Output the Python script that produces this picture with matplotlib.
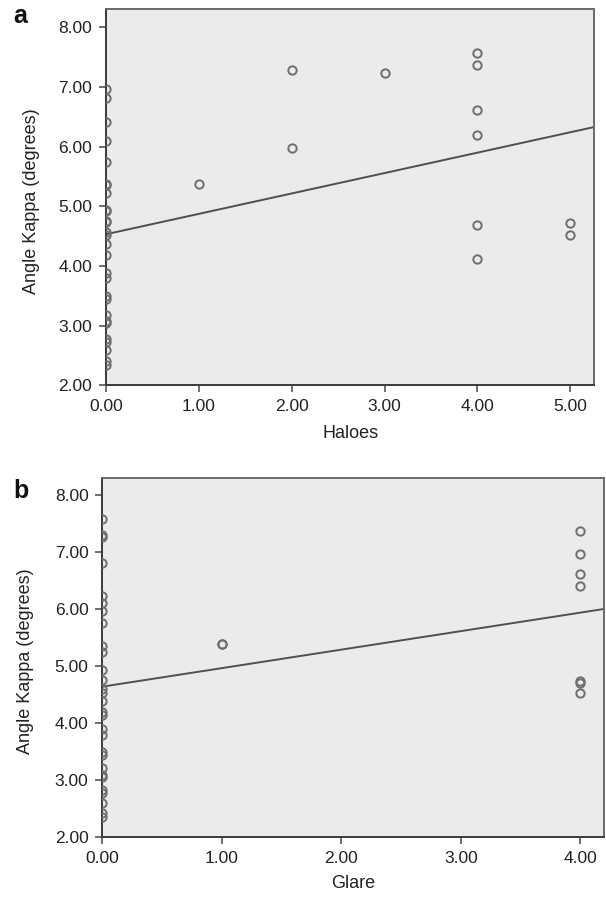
import numpy as np
import matplotlib
matplotlib.use('Agg')
import matplotlib.pyplot as plt

plt.rcParams['font.family'] = ['Liberation Sans', 'DejaVu Sans']

# PANEL a: HALOES vs ANGLE KAPPA
haloes_zero = [6.97, 6.81, 6.41, 6.10, 5.74, 5.38, 5.36, 5.22, 4.94, 4.92, 4.76, 4.74,
               4.56, 4.52, 4.37, 4.19, 3.88, 3.79, 3.49, 3.44, 3.18, 3.07, 3.04,
               2.78, 2.73, 2.59, 2.40, 2.34]
haloes_x = [1, 2, 2, 3, 4, 4, 4, 4, 4, 4, 5, 5]
haloes_y = [5.38, 7.29, 5.97, 7.24, 7.57, 7.37, 6.61, 6.20, 4.68, 4.12, 4.72, 4.52]
haloes_fit = (4.53, 0.342)   # intercept, slope

# PANEL b: GLARE vs ANGLE KAPPA
glare_zero = [7.57, 7.30, 7.26, 6.81, 6.22, 6.10, 5.97, 5.75, 5.35, 5.25, 4.94, 4.76,
              4.59, 4.52, 4.38, 4.20, 4.14, 3.89, 3.79, 3.50, 3.44, 3.21, 3.09, 3.05,
              2.83, 2.78, 2.61, 2.42, 2.36]
glare_x = [1, 1, 4, 4, 4, 4, 4, 4, 4]
glare_y = [5.39, 5.39, 7.37, 6.97, 6.62, 6.40, 4.73, 4.70, 4.53]
glare_fit = (4.64, 0.324)

yticks = [2, 3, 4, 5, 6, 7, 8]

fig = plt.figure(figsize=(6.06, 9.02), dpi=100)
ax_a = fig.add_axes([0.175, 0.573, 0.806, 0.4166])
ax_b = fig.add_axes([0.169, 0.0717, 0.828, 0.3987])

panels = [
    (ax_a, haloes_zero, haloes_x, haloes_y, haloes_fit, 5.26, [0, 1, 2, 3, 4, 5], 'Haloes', 'a', 23),
    (ax_b, glare_zero, glare_x, glare_y, glare_fit, 4.2, [0, 1, 2, 3, 4], 'Glare', 'b', 498),
]

for ax, zero, xs, ys, fit, xmax, xticks, xlab, letter, ybase in panels:
    ax.set_facecolor('#ebebeb')
    allx = [0] * len(zero) + xs
    ally = zero + ys
    ax.plot(allx, ally, 'o', mfc='none', mec='#6e6e6e', mew=1.4, ms=6, zorder=3)
    xl = np.array([0, xmax])
    ax.plot(xl, fit[0] + fit[1] * xl, color='#505050', lw=1.4, zorder=2)
    ax.set_xlim(0, xmax)
    ax.set_ylim(2, 8.30)
    ax.set_xticks(xticks)
    ax.set_yticks(yticks)
    ax.set_xticklabels(['%.2f' % t for t in xticks])
    ax.set_yticklabels(['%.2f' % t for t in yticks])
    ax.tick_params(direction='out', length=5, width=1.2, color='#555555',
                   labelsize=12.5, labelcolor='#222222', pad=5)
    for s in ['left', 'bottom']:
        ax.spines[s].set_color('#3a3a3a')
        ax.spines[s].set_linewidth(1.4)
    for s in ['top', 'right']:
        ax.spines[s].set_color('#6a6a6a')
        ax.spines[s].set_linewidth(1.4)
    ax.set_xlabel(xlab, fontsize=13, color='#222222')
    ax.set_ylabel('Angle Kappa (degrees)', fontsize=13, color='#222222')
    ax.xaxis.set_label_coords(0.5, -0.105)
    ax.yaxis.set_label_coords(-0.136, 0.49)
    fig.text(13 / 606, 1 - ybase / 902, letter, fontsize=18, fontweight='bold',
             va='baseline', ha='left', color='#111111')

fig.savefig('out.png', dpi=100)
